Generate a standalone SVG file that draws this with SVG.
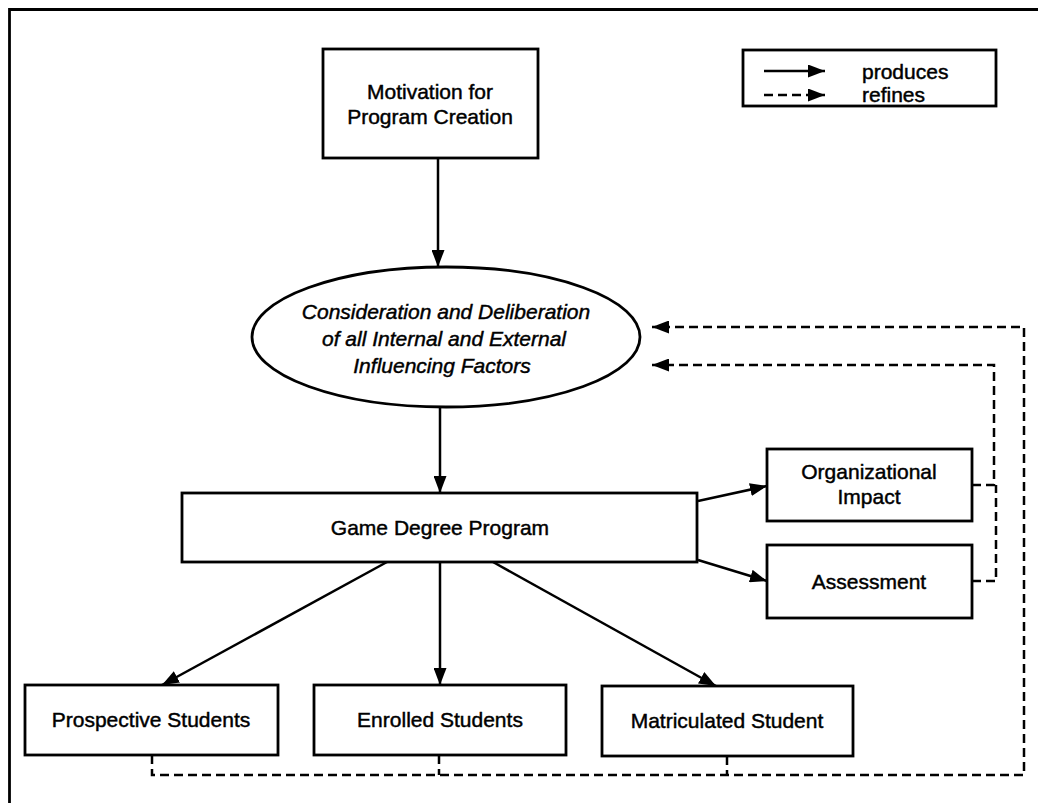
<svg xmlns="http://www.w3.org/2000/svg" width="1038" height="803" viewBox="0 0 1038 803">
<defs>
<marker id="ah" viewBox="0 0 17 13" refX="17" refY="6.5" markerWidth="17" markerHeight="13" markerUnits="userSpaceOnUse" orient="auto"><path d="M0,0 L17,6.5 L0,13 z" fill="#000"/></marker>
<style>
.box{fill:#fff;stroke:#000;stroke-width:2.8}
.t{font-family:"Liberation Sans",Arial,sans-serif;font-size:21px;fill:#000;stroke:#000;stroke-width:0.45;text-anchor:middle}
.ti{font-style:italic}
.solid{fill:none;stroke:#000;stroke-width:2.5;marker-end:url(#ah)}
.dash{fill:none;stroke:#000;stroke-width:2.5;stroke-dasharray:9 5}
.dasharrow{fill:none;stroke:#000;stroke-width:2.5;stroke-dasharray:9 5;marker-end:url(#ah)}
</style>
</defs>
<rect width="1038" height="803" fill="#fff"/>
<path d="M9.5,803 L9.5,9.5 L1038,9.5" fill="none" stroke="#000" stroke-width="2.8"/>

<g id="legend">
<rect class="box" x="743" y="50" width="253" height="56"/>
<line class="solid" x1="764" y1="71" x2="825" y2="71"/>
<text class="t" x="862" y="79" style="text-anchor:start">produces</text>
<line class="dasharrow" x1="764" y1="95" x2="825" y2="95"/>
<text class="t" x="862" y="102" style="text-anchor:start">refines</text>
</g>

<g id="connectors">
<line class="solid" x1="438" y1="158" x2="438" y2="267"/>
<line class="solid" x1="440" y1="408" x2="440" y2="493"/>
<line class="solid" x1="698" y1="501" x2="767" y2="486"/>
<line class="solid" x1="698" y1="560" x2="767" y2="581"/>
<line class="solid" x1="387" y1="562" x2="162" y2="685"/>
<line class="solid" x1="440" y1="562" x2="440" y2="685"/>
<line class="solid" x1="493" y1="562" x2="716" y2="686"/>
<path class="dasharrow" d="M972,485 L994,485 L994,365 L652,365"/>
<path class="dash" d="M972,581 L996,581 L996,485"/>
<path class="dasharrow" d="M152,755 L152,775 L1024,775 L1024,327 L652,327"/>
<path class="dash" d="M439,755 L439,775"/>
<path class="dash" d="M727,756 L727,775"/>
</g>

<g id="motivation">
<rect class="box" x="323" y="49" width="215" height="109"/>
<text class="t" x="430" y="99">Motivation for</text>
<text class="t" x="430" y="124">Program Creation</text>
</g>

<g id="consideration">
<ellipse cx="446" cy="337" rx="194" ry="70" fill="#fff" stroke="#000" stroke-width="2.8"/>
<text class="t ti" x="446" y="319">Consideration and Deliberation</text>
<text class="t ti" x="444" y="346">of all Internal and External</text>
<text class="t ti" x="442" y="373">Influencing Factors</text>
</g>

<g id="game">
<rect class="box" x="182" y="493" width="515" height="69"/>
<text class="t" x="440" y="535">Game Degree Program</text>
</g>

<g id="org">
<rect class="box" x="767" y="449" width="205" height="72"/>
<text class="t" x="869" y="479">Organizational</text>
<text class="t" x="869" y="504">Impact</text>
</g>

<g id="assessment">
<rect class="box" x="767" y="545" width="205" height="73"/>
<text class="t" x="869" y="589">Assessment</text>
</g>

<g id="prospective">
<rect class="box" x="25" y="685" width="253" height="70"/>
<text class="t" x="151" y="727">Prospective Students</text>
</g>

<g id="enrolled">
<rect class="box" x="314" y="685" width="252" height="70"/>
<text class="t" x="440" y="727">Enrolled Students</text>
</g>

<g id="matriculated">
<rect class="box" x="602" y="686" width="251" height="70"/>
<text class="t" x="727" y="728">Matriculated Student</text>
</g>
</svg>
